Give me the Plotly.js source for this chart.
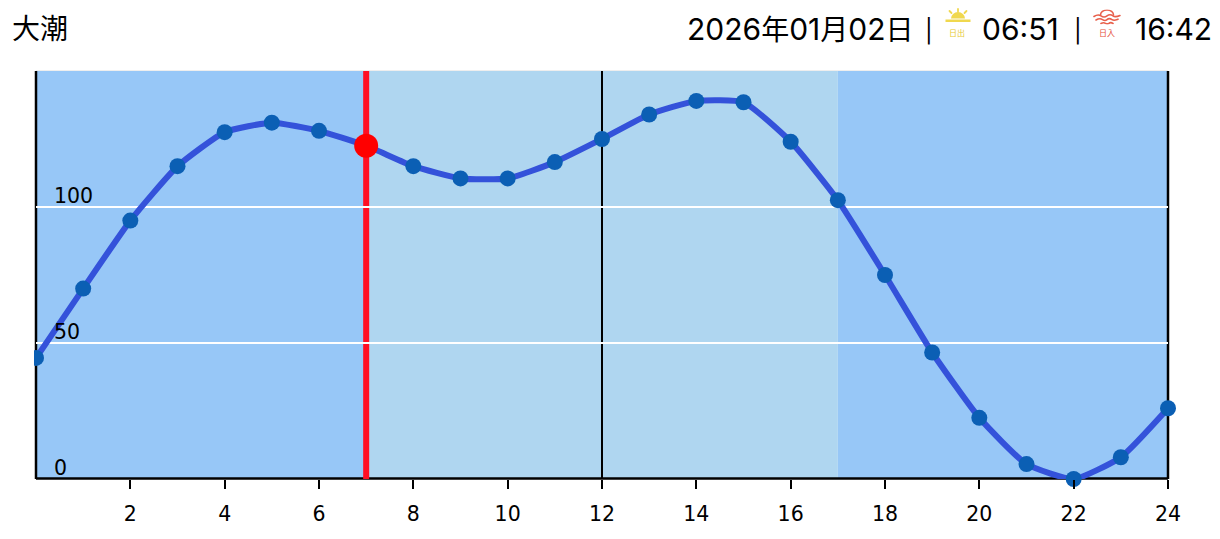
<!DOCTYPE html>
<html><head><meta charset="utf-8">
<script src="https://cdn.plot.ly/plotly-3.0.1.min.js"></script>
<style>html,body{margin:0;padding:0;background:#fff}</style></head>
<body><div id="chart" style="width:1220px;height:539px"></div>
<script>
const hours=[0,1,2,3,4,5,6,7,8,9,10,11,12,13,14,15,16,17,18,19,20,21,22,23,24];
const tide=[44.5,70,95,115,127.5,131,128,122.5,115,110.5,110.5,116.5,125,134,139,138.5,124,102.5,75,46.5,22.5,5.5,0,8,26];
const xTicks=[2,4,6,8,10,12,14,16,18,20,22,24];
const yTicks=[0,50,100];
const nowHour=7, nowValue=122.5;
const dayStart=7, dayEnd=17;
const tideName='大潮', dateText='2026年01月02日', sunrise='06:51', sunset='16:42';
const W=1220,H=539,L=36,R=1168,T=71,B=479;
const sunSvg=`<svg xmlns="http://www.w3.org/2000/svg" width="26" height="15" viewBox="0 0 26 15"><g fill="#f0d84e" stroke="none"><path d="M6 10.500a7 6.500 0 0 1 14 0z"/><rect x="0.500" y="11.500" width="25" height="2.500"/></g><g stroke="#f0d84e" stroke-width="1.800" stroke-linecap="round"><path d="M13 1v2.500M4.500 3l2 2M21.500 3l-2 2"/></g></svg>`;
const setSvg=`<svg xmlns="http://www.w3.org/2000/svg" width="28" height="15" viewBox="0 0 28 15"><g fill="none" stroke="#e8604c" stroke-width="1.600" stroke-linecap="round"><path d="M7.500 5.500a6.500 5 0 0 1 13 0"/><path d="M1 7c3-2 5-2 7-.6s4 1.500 6 0 4-1.500 6 0 4 .9 7-.4"/><path d="M3 10.500c3-1.800 4.500-1.800 6.500-.4s3 1.400 4.500 0 3-1.400 5 0 3 .8 6-.4"/><path d="M8 14c2-1.200 3-1.200 4.500-.2s2.500 .8 3.500 0 2.500-.8 4 .2"/></g></svg>`;
const uri=s=>'data:image/svg+xml;base64,'+btoa(s);
const px=v=>(v-L)/(R-L), py=v=>(B-v)/(B-T);
const sx=v=>v/(R-L), sy=v=>v/(B-T);
const headFont='Inter,"Noto Sans CJK JP",sans-serif';
const tickFont={family:'"DejaVu Sans",sans-serif',size:20.5,color:'#000'};
const head=(x,text,anchor,size,color,y)=>({xref:'paper',yref:'paper',x:px(x),y:py(y||29),text,showarrow:false,xanchor:anchor,yanchor:'middle',font:{family:headFont,size:size||30,color:color||'#000'}});
const cjkSized=s=>s.replace(/[^0-9:]+/g,m=>`<span style="font-size:28px">${m}</span>`);
const annotations=[
  head(10,tideName,'left',28),
  head(916,cjkSized(dateText),'right'),
  head(928.5,'|','center',23,'#000',31),
  head(1061,sunrise,'right'),
  head(1077.5,'|','center',23,'#000',31),
  head(1214,sunset,'right'),
  head(957,'日出','center',8,'#e6c92e',33),
  head(1107,'日入','center',8,'#e5503a',33),
  ...yTicks.map(v=>({xref:'paper',yref:'y',x:px(52),y:v,yshift:11,text:String(v),showarrow:false,xanchor:'left',yanchor:'middle',font:tickFont}))
];
const rect=(h0,h1,color)=>({type:'rect',layer:'below',xref:'paper',yref:'paper',x0:h0/24,x1:h1/24,y0:0,y1:1,fillcolor:color,line:{width:0}});
const edge=h=>({type:'line',layer:'below',xref:'paper',yref:'paper',x0:h/24,x1:h/24,y0:0,y1:1,line:{color:'#000',width:2.5}});
const vline=(x,color,width)=>({type:'line',layer:'below',xref:'x',yref:'paper',x0:x,x1:x,y0:0,y1:1,line:{color,width}});
const shapes=[
  {type:'line',layer:'below',xref:'paper',yref:'paper',x0:0,x1:1,y0:py(70.5),y1:py(70.5),line:{color:'#eeeeee',width:1}},
  rect(0,dayStart,'#97c7f7'),rect(dayStart,dayEnd,'#afd6f0'),rect(dayEnd,24,'#97c7f7'),
  edge(0),edge(24),
  {type:'line',layer:'below',xref:'paper',yref:'paper',x0:0,x1:1,y0:py(478.5),y1:py(478.5),line:{color:'#000',width:2.5}},
  vline(12,'#000',2),
  vline(nowHour,'#ff0f24',6),
  {type:'rect',layer:'above',xref:'paper',yref:'y',x0:px(24),x1:px(34),y0:30,y1:60,fillcolor:'#fff',line:{width:0}}
];
const images=[
  {source:uri(sunSvg),xref:'paper',yref:'paper',x:px(945),y:py(8),sizex:sx(26),sizey:sy(15),xanchor:'left',yanchor:'top',sizing:'contain',layer:'above'},
  {source:uri(setSvg),xref:'paper',yref:'paper',x:px(1093),y:py(9.500),sizex:sx(28),sizey:sy(15),xanchor:'left',yanchor:'top',sizing:'contain',layer:'above'}
];
Plotly.newPlot('chart',[
 {x:hours,y:tide,type:'scatter',mode:'lines+markers',cliponaxis:false,hoverinfo:'skip',
  line:{color:'#3452da',width:6,shape:'spline',smoothing:0.5},
  marker:{color:'#0b5fb4',size:16}},
 {x:[nowHour],y:[nowValue],type:'scatter',mode:'markers',cliponaxis:false,hoverinfo:'skip',marker:{color:'#ff0000',size:24}}
],{
  width:W,height:H,showlegend:false,paper_bgcolor:'#fff',plot_bgcolor:'#fff',
  margin:{l:L,r:W-R,t:T,b:H-B,pad:0},
  xaxis:{range:[0,24],tickvals:xTicks,ticktext:xTicks.map(String),ticks:'outside',ticklen:9,tickwidth:2,tickcolor:'#000',ticklabelstandoff:7,
    showline:false,showgrid:false,zeroline:false,tickfont:tickFont},
  yaxis:{range:[0,150],tickvals:yTicks.slice(1),showticklabels:false,ticks:'',gridcolor:'#fff',gridwidth:1.5,zeroline:false,showline:false},
  shapes,annotations,images
},{displayModeBar:false,staticPlot:true});
</script></body></html>
